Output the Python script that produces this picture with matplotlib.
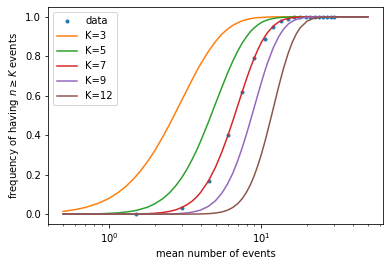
import numpy as np
import matplotlib
matplotlib.use("Agg")
import matplotlib.pyplot as plt

mu = [0.5, 0.6, 0.7, 0.85, 1.0, 1.15, 1.3, 1.45, 1.6, 1.8,
      2.0, 2.25, 2.5, 2.75, 3.0, 3.25, 3.5, 3.75, 4.0, 4.5,
      5.0, 5.5, 6.0, 6.5, 7.0, 7.5, 8.0, 8.5, 9.0, 9.5,
      10, 10.5, 11, 12, 13, 14, 15, 16, 17, 18,
      20, 22, 25, 30, 40, 50]

# frequency of having n >= K events
k3 = [0.014, 0.023, 0.034, 0.055, 0.080, 0.110, 0.143, 0.179, 0.217, 0.269,
      0.323, 0.391, 0.456, 0.519, 0.577, 0.630, 0.679, 0.723, 0.762, 0.826,
      0.875, 0.912, 0.938, 0.957, 0.970, 0.980, 0.986, 0.991, 0.994, 0.996,
      0.997, 0.998, 0.999, 1.0, 1.0, 1.0, 1.0, 1.0, 1.0, 1.0,
      1.0, 1.0, 1.0, 1.0, 1.0, 1.0]
k5 = [0.0002, 0.0004, 0.0007, 0.0018, 0.004, 0.0065, 0.011, 0.016, 0.024, 0.036,
      0.053, 0.078, 0.109, 0.145, 0.185, 0.228, 0.275, 0.322, 0.371, 0.468,
      0.560, 0.642, 0.715, 0.776, 0.827, 0.868, 0.900, 0.926, 0.945, 0.960,
      0.971, 0.979, 0.985, 0.992, 0.996, 0.998, 0.999, 1.0, 1.0, 1.0,
      1.0, 1.0, 1.0, 1.0, 1.0, 1.0]
k7 = [0.0, 0.0, 0.0, 0.0, 0.0001, 0.0002, 0.0004, 0.0008, 0.0013, 0.0026,
      0.0045, 0.0084, 0.014, 0.022, 0.034, 0.048, 0.065, 0.086, 0.111, 0.169,
      0.238, 0.314, 0.394, 0.473, 0.550, 0.622, 0.687, 0.744, 0.793, 0.835,
      0.870, 0.898, 0.921, 0.954, 0.974, 0.986, 0.992, 0.996, 0.998, 0.999,
      1.0, 1.0, 1.0, 1.0, 1.0, 1.0]
k9 = [0.0, 0.0, 0.0, 0.0, 0.0, 0.0, 0.0, 0.0, 0.0, 0.0001,
      0.0002, 0.0005, 0.001, 0.002, 0.004, 0.006, 0.010, 0.015, 0.021, 0.040,
      0.068, 0.106, 0.153, 0.208, 0.271, 0.338, 0.407, 0.477, 0.544, 0.608,
      0.667, 0.721, 0.768, 0.845, 0.900, 0.938, 0.963, 0.978, 0.987, 0.993,
      0.998, 0.999, 1.0, 1.0, 1.0, 1.0]
k12 = [0.0, 0.0, 0.0, 0.0, 0.0, 0.0, 0.0, 0.0, 0.0, 0.0,
       0.0, 0.0, 0.0, 0.0, 0.0, 0.0001, 0.0004, 0.0005, 0.0009, 0.0025,
       0.0055, 0.011, 0.020, 0.034, 0.053, 0.079, 0.112, 0.151, 0.197, 0.248,
       0.303, 0.361, 0.421, 0.538, 0.647, 0.740, 0.815, 0.873, 0.915, 0.945,
       0.979, 0.992, 0.999, 1.0, 1.0, 1.0]

# measured points
data_mu = [1.5, 3.0, 4.5, 6.0, 7.5, 9.0, 10.5, 12.0, 13.5, 15.0,
           16.5, 18.0, 19.5, 21.0, 22.5, 24.0, 25.5, 27.0, 28.5, 30.0]
data_freq = [0.0, 0.03, 0.17, 0.40, 0.62, 0.79, 0.89, 0.95, 0.98, 0.99,
             1.0, 1.0, 1.0, 1.0, 1.0, 1.0, 1.0, 1.0, 1.0, 1.0]

curves = [("K=3", k3), ("K=5", k5), ("K=7", k7), ("K=9", k9), ("K=12", k12)]

fig = plt.figure(figsize=(390 / 72, 266 / 72), dpi=72)
ax = fig.add_axes([48 / 390, 42 / 266, 335 / 390, 217 / 266])

ax.plot(data_mu, data_freq, '.', label="data")
for name, vals in curves:
    ax.plot(mu, vals, label=name)

ax.set_xscale("log")
ax.set_xlabel("mean number of events")
ax.set_ylabel(r"frequency of having $n \geq K$ events")
ax.legend(loc="upper left")

fig.savefig("out.png", dpi=72)
